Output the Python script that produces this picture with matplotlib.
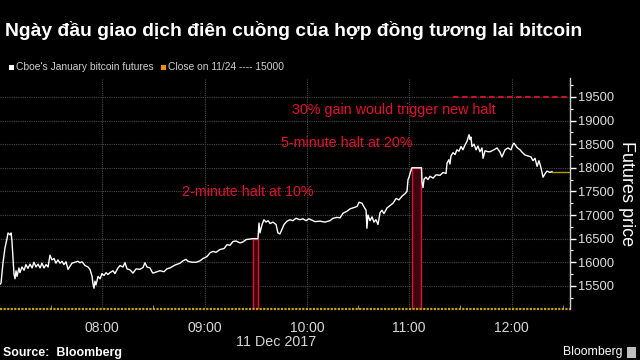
import matplotlib
matplotlib.use("Agg")
import matplotlib.pyplot as plt
from matplotlib import font_manager
from matplotlib.patches import Rectangle

# ---- data ----
times = [420.3, 420.6, 421.8, 422.9, 424.1, 424.7, 425.9, 426.5, 427.0, 428.2, 428.8, 429.4, 430.0,
         431.1, 431.7, 432.9, 434.1, 435.2, 436.4, 437.6, 438.8, 439.9, 441.1, 442.3, 443.5, 444.6,
         445.8, 447.0, 448.2, 449.3, 450.5, 451.7, 452.8, 454.0, 455.2, 456.4, 457.5, 458.7, 459.9,
         461.1, 462.2, 464.0, 465.7, 466.9, 468.1, 469.9, 471.6, 472.8, 474.0, 474.5, 475.1, 475.7,
         476.3, 477.5, 478.7, 479.8, 481.0, 482.2, 483.3, 484.5, 486.3, 487.4, 489.2, 490.4, 492.1,
         493.3, 494.5, 496.2, 498.0, 499.8, 502.1, 503.9, 505.0, 506.2, 508.0, 509.1, 509.7, 512.1,
         513.8, 516.2, 517.9, 519.7, 522.6, 525.6, 527.3, 529.1, 530.3, 532.6, 535.0, 537.3, 539.1,
         541.4, 543.2, 544.9, 546.7, 549.0, 551.4, 553.1, 554.9, 556.7, 558.4, 560.8, 562.5, 564.3,
         566.6, 568.4, 571.3, 571.9, 572.5, 573.7, 574.8, 576.0, 577.2, 578.4, 580.1, 581.9, 583.0,
         584.2, 585.4, 586.6, 588.3, 590.1, 591.8, 593.6, 595.9, 597.7, 599.5, 601.2, 604.7, 607.7,
         610.6, 613.5, 615.3, 617.7, 619.4, 621.2, 623.5, 625.3, 627.0, 629.4, 630.6, 632.3, 633.5,
         634.7, 635.2, 635.8, 637.0, 638.2, 639.3, 640.5, 641.7, 642.9, 644.0, 645.2, 647.0, 648.7,
         650.5, 652.3, 654.0, 655.8, 657.5, 658.7, 659.3, 659.9, 660.5, 661.1, 661.6, 667.2, 667.5,
         668.1, 668.7, 669.8, 671.0, 672.2, 674.0, 675.7, 678.1, 679.8, 681.6, 682.2, 683.3, 683.9,
         684.5, 685.7, 686.9, 688.0, 689.2, 690.4, 691.5, 692.7, 693.9, 695.1, 695.7, 696.2, 696.8,
         698.0, 699.2, 700.3, 701.5, 702.7, 703.3, 704.5, 706.2, 707.4, 709.7, 711.5, 713.3, 714.4,
         716.2, 717.9, 719.7, 720.9, 721.5, 723.2, 725.0, 726.2, 727.9, 729.7, 731.4, 732.6, 733.8,
         735.0, 736.1, 737.3, 738.5, 739.6, 740.8, 742.6, 743.7]
prices = [15540, 15560, 16000, 16300, 16500, 16620, 16580, 16620, 16450, 15750, 15650, 15820, 15700,
          15880, 15780, 15900, 15830, 15950, 15870, 15960, 15880, 16000, 15900, 15960, 15880, 15980,
          15880, 15950, 15900, 16150, 16050, 16080, 15980, 16050, 15980, 16020, 15950, 16010, 15850,
          15920, 15980, 16000, 16020, 15990, 16010, 15930, 15900, 15850, 15700, 15550, 15450, 15600,
          15520, 15700, 15650, 15760, 15720, 15780, 15740, 15780, 15820, 15760, 15880, 15930, 15900,
          15990, 15860, 15840, 15770, 15860, 15850, 15890, 15990, 15900, 15880, 15800, 15770, 15800,
          15820, 15800, 15860, 15880, 15940, 15980, 16030, 16060, 16020, 16000, 16000, 16030, 16080,
          16120, 16200, 16230, 16210, 16270, 16290, 16370, 16360, 16440, 16450, 16410, 16430, 16480,
          16490, 16500, 16500, 16830, 16620, 16800, 16900, 16850, 16880, 16820, 16850, 16800, 16620,
          16600, 16700, 16800, 16870, 16900, 16880, 16930, 16900, 16920, 16880, 16920, 16860, 16870,
          16850, 16880, 16930, 16950, 16940, 17040, 17080, 17130, 17150, 17180, 17270, 17250, 17170,
          17100, 16720, 17000, 16880, 16960, 16850, 16900, 16800, 17050, 17100, 17030, 17150, 17200,
          17250, 17350, 17320, 17400, 17450, 17500, 17750, 17800, 17880, 17950, 18000, 18000, 17700,
          17580, 17760, 17800, 17750, 17820, 17780, 17850, 17840, 17900, 17880, 18100, 18170, 18080,
          18250, 18320, 18280, 18380, 18350, 18450, 18380, 18480, 18560, 18700, 18600, 18650, 18450,
          18500, 18380, 18460, 18340, 18420, 18200, 18360, 18340, 18340, 18380, 18420, 18330, 18230,
          18380, 18420, 18380, 18500, 18520, 18430, 18380, 18330, 18270, 18250, 18230, 18150, 18200,
          18030, 18150, 18000, 17800, 17870, 17930, 17900, 17920]
close_1124 = 15000
halt_levels = [16500, 18000, 19500]
halt_windows = [(568.4, 571.3), (661.6, 667.2)]
halt_labels = ["2-minute halt at 10%", "5-minute halt at 20%", "30% gain would trigger new halt"]
hour_ticks = [480, 540, 600, 660, 720]
hour_labels = ["08:00", "09:00", "10:00", "11:00", "12:00"]
price_ticks = [15500, 16000, 16500, 17000, 17500, 18000, 18500, 19000, 19500]

FONT = "Liberation Sans"

fig = plt.figure(figsize=(6.4, 3.6), dpi=100, facecolor="black")
ax = fig.add_axes([0.0, 0.1403, 0.8906, 0.6430], facecolor="black")

x0, x1 = 420.0, 754.3
ax.set_xlim(x0, x1)
ax.set_ylim(15000, 19900)

red = "#e5102c"
# halts
for (a, b), lvl in zip(halt_windows, halt_levels[:2]):
    ax.add_patch(Rectangle((a, close_1124), b - a, lvl - close_1124,
                           facecolor="#3c0610", edgecolor=red, lw=1.0, zorder=2))
# 30% line
ax.plot([685.7, x1], [halt_levels[2]] * 2, color=red, lw=1.3, ls=(0, (3, 2)), zorder=3, clip_on=False)

# price line
ax.plot(times, prices, color="white", lw=1.0, zorder=4)
# last-price extension
ax.plot([times[-1], x1], [prices[-1]] * 2, color="#b89a10", lw=1.0, zorder=3)
# close on 11/24 line
ax.plot([x0, x1], [close_1124] * 2, color="#c9a20a", lw=1.6, ls=(0, (1, 0.6)), zorder=3, clip_on=False)

# annotations
fs_red = 10.3
ax.text(591.3, 19227, halt_labels[2], color=red, fontsize=fs_red, family=FONT, va="center", ha="left")
ax.text(584.8, 18528, halt_labels[1], color=red, fontsize=fs_red, family=FONT, va="center", ha="left")
ax.text(603.6, 17490, halt_labels[0], color=red, fontsize=fs_red, family=FONT, va="center", ha="right")

# grid
ax.set_yticks(price_ticks)
ax.set_yticks([p + 250 for p in [15000] + price_ticks], minor=True)
ax.set_xticks(hour_ticks)
ax.set_xticklabels(hour_labels)
ax.set_xticks([h - 30 for h in hour_ticks] + [750], minor=True)
ax.grid(True, which="major", color="#4a4a4a", lw=0.8, ls=(0, (1, 1)))
ax.yaxis.tick_right()
ax.tick_params(axis="y", which="major", colors="white", length=4, width=1, labelsize=9.3, pad=2,
               labelcolor="#e0e0e0")
ax.tick_params(axis="y", which="minor", colors="white", length=2, width=0.8)
ax.tick_params(axis="x", which="major", length=0, labelsize=10, labelcolor="#d8d8d8", pad=8)
ax.tick_params(axis="x", which="minor", direction="in", length=3, color="#888888", width=0.8)
for lab in ax.get_xticklabels() + ax.get_yticklabels():
    lab.set_family(FONT)
for s in ["left", "top", "bottom"]:
    ax.spines[s].set_visible(False)
ax.spines["right"].set_color("#d0d0d0")
ax.spines["right"].set_linewidth(1.0)

ax.yaxis.set_label_position("right")
ax.set_ylabel("Futures price", rotation=270, color="white", fontsize=13, family=FONT, labelpad=15)

fig.text(276 / 640, 1 - 342 / 360, "11 Dec 2017", color="#d8d8d8", fontsize=10.3, family=FONT,
         ha="center", va="center")

# title
fig.text(5 / 640, 1 - 30 / 360, "Ngày đầu giao dịch điên cuồng của hợp đồng tương lai bitcoin",
         color="white", fontsize=13.9, family=FONT, weight="bold", ha="left", va="center")

# legend
fig.patches.append(Rectangle((9 / 640, 1 - 70 / 360), 5 / 640, 5 / 360, transform=fig.transFigure,
                             facecolor="white", edgecolor="none"))
fig.text(16 / 640, 1 - 67 / 360, "Cboe's January bitcoin futures", color="#cfcfcf", fontsize=7.4,
         family=FONT, ha="left", va="center")
fig.patches.append(Rectangle((161 / 640, 1 - 70 / 360), 5 / 640, 5 / 360, transform=fig.transFigure,
                             facecolor="#f0900a", edgecolor="none"))
fig.text(168 / 640, 1 - 67 / 360, "Close on 11/24 ---- 15000", color="#cfcfcf", fontsize=7.4,
         family=FONT, ha="left", va="center")

# footer
fig.text(3 / 640, 1 - 353 / 360, "Source:  Bloomberg", color="white", fontsize=8.9, family=FONT,
         weight="bold", ha="left", va="center")
fig.text(622 / 640, 1 - 352 / 360, "Bloomberg", color="white", fontsize=8.8, family=FONT,
         ha="right", va="center")
fig.patches.append(Rectangle((627 / 640, 1 - 358 / 360), 9 / 640, 11 / 360, transform=fig.transFigure,
                             facecolor="#bfbfbf", edgecolor="none"))

fig.savefig("out.png", dpi=100, facecolor="black")
